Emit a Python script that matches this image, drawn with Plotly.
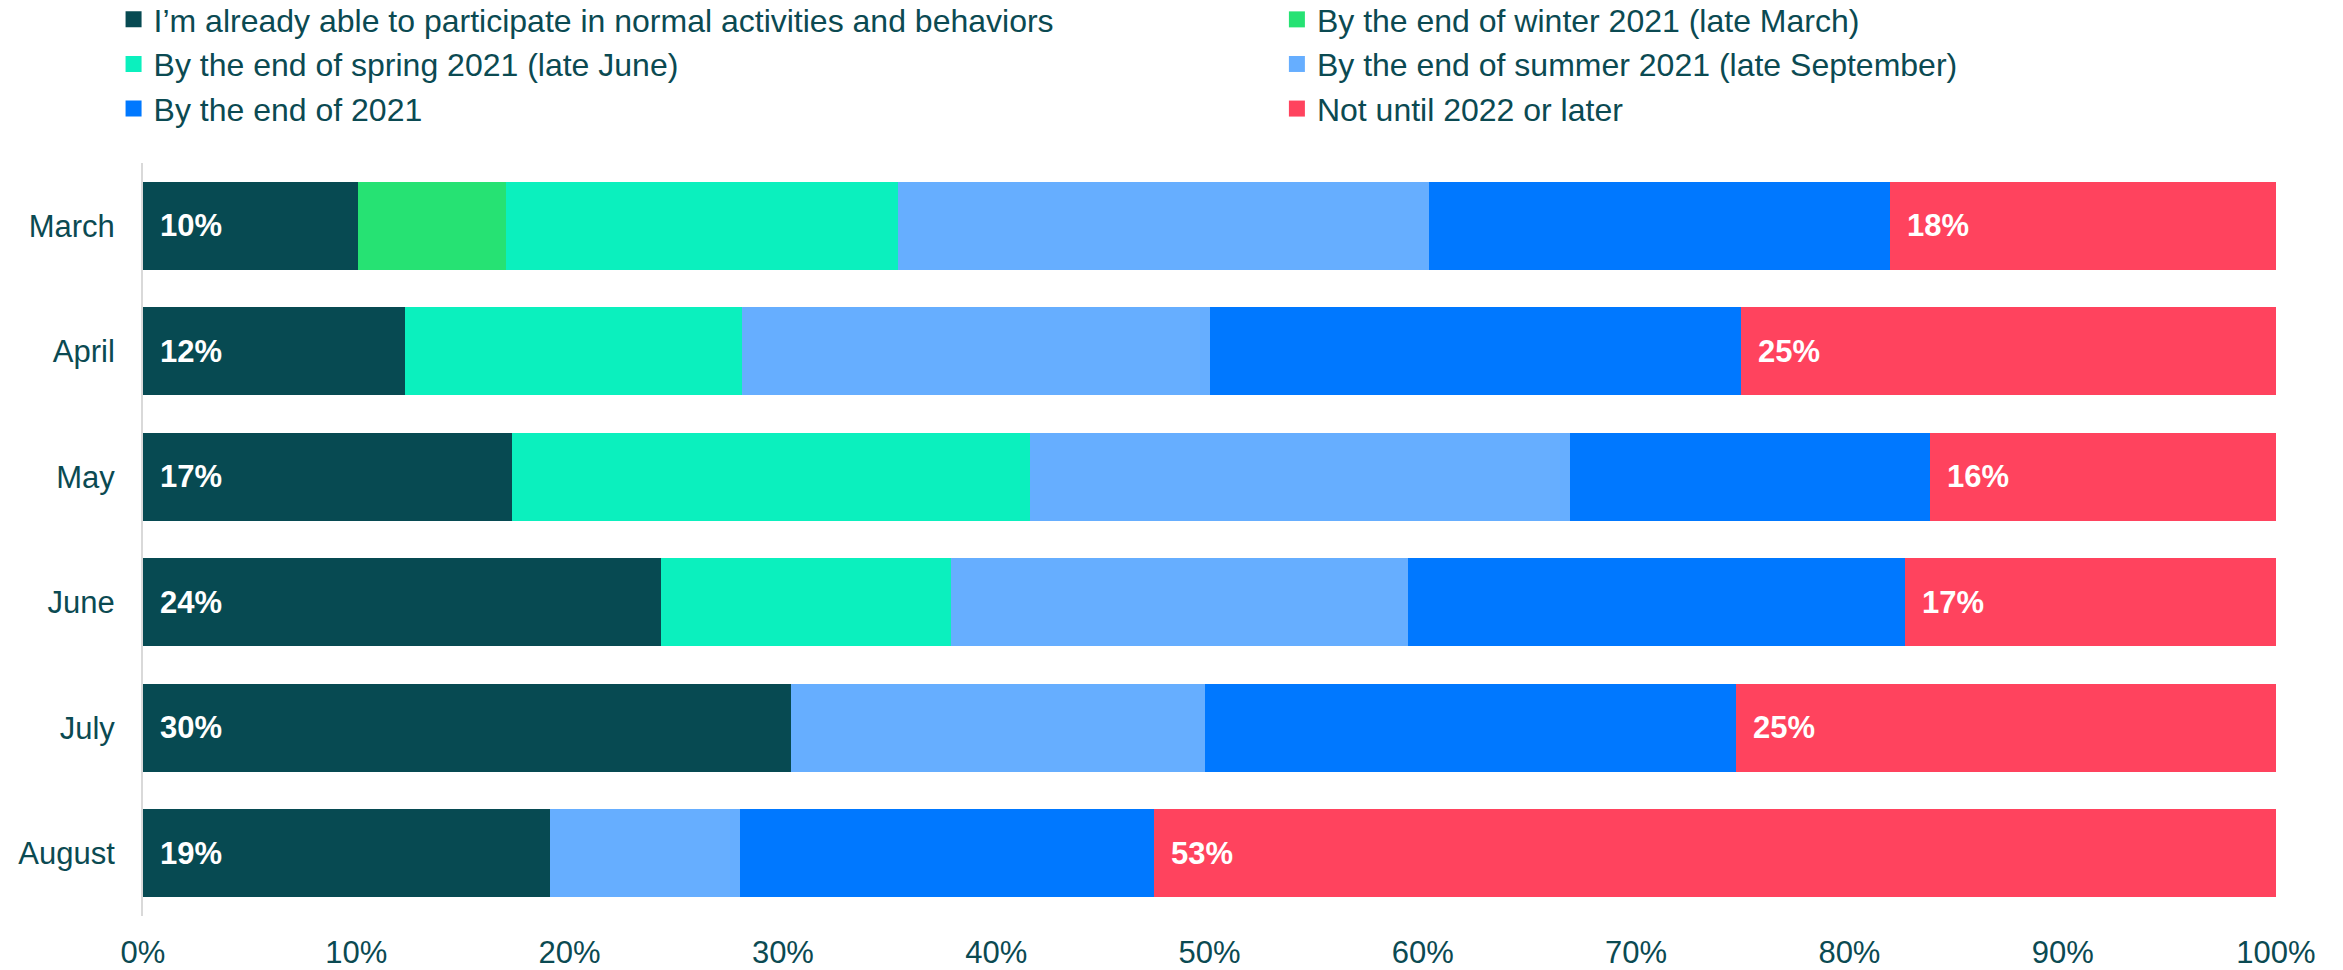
import plotly.graph_objects as go

months = ["March", "April", "May", "June", "July", "August"]
series_names = [
    "I’m already able to participate in normal activities and behaviors",
    "By the end of winter 2021 (late March)",
    "By the end of spring 2021 (late June)",
    "By the end of summer 2021 (late September)",
    "By the end of 2021",
    "Not until 2022 or later",
]
already = [10.1, 12.3, 17.3, 24.3, 30.4, 19.1]
winter = [6.9, None, None, None, None, None]
spring = [18.4, 15.8, 24.3, 13.6, None, None]
summer = [24.9, 21.9, 25.3, 21.4, 19.4, 8.9]
end2021 = [21.6, 24.9, 16.9, 23.3, 24.9, 19.4]
later = [18.1, 25.1, 16.2, 17.4, 25.3, 52.6]
colors = ["#074A52", "#26E273", "#0BF0BE", "#66AEFF", "#0078FF", "#FF435E"]
tick_vals = [0, 10, 20, 30, 40, 50, 60, 70, 80, 90, 100]
tick_text = ["0%", "10%", "20%", "30%", "40%", "50%", "60%", "70%", "80%", "90%", "100%"]

text_color = "#0B4A52"
font_family = "Liberation Sans, Arial, sans-serif"

series = [already, winter, spring, summer, end2021, later]
fig = go.Figure()
for name, vals, col in zip(series_names, series, colors):
    fig.add_trace(go.Bar(
        y=months, x=vals, name=name, orientation="h",
        marker=dict(color=col, line=dict(width=0)),
        hoverinfo="x+name", showlegend=False,
    ))

# legend entries (two columns): left column = items 0,2,4 ; right column = 1,3,5
for i, (name, col) in enumerate(zip(series_names, colors)):
    fig.add_trace(go.Scatter(
        x=[None], y=[None], mode="markers", name=name,
        marker=dict(symbol="square", size=16, color=col),
        legend="legend" if i % 2 == 0 else "legend2",
        showlegend=True, hoverinfo="skip",
    ))

annotations = []
for i, m in enumerate(months):
    annotations.append(dict(
        x=0, y=m, xref="x", yref="y", text=f"<b>{round(already[i])}%</b>",
        showarrow=False, xanchor="left", xshift=15,
        font=dict(color="white", size=31, family=font_family),
    ))
    base = 100 - later[i]
    annotations.append(dict(
        x=base, y=m, xref="x", yref="y", text=f"<b>{round(later[i])}%</b>",
        showarrow=False, xanchor="left", xshift=15,
        font=dict(color="white", size=31, family=font_family),
    ))

legend_common = dict(
    orientation="v", xanchor="left", yanchor="top",
    itemwidth=30, traceorder="normal", bgcolor="rgba(0,0,0,0)",
    font=dict(size=32, color=text_color, family=font_family),
)

fig.update_layout(
    barmode="stack",
    bargap=0.3,
    width=2343, height=970,
    margin=dict(l=143, r=67, t=163, b=54, autoexpand=False),
    paper_bgcolor="white", plot_bgcolor="white",
    font=dict(family=font_family, color=text_color, size=31),
    annotations=annotations,
    legend=dict(x=-0.0138, y=1.227, **legend_common),
    legend2=dict(x=0.5316, y=1.227, **legend_common),
    xaxis=dict(
        range=[0, 100], tickvals=tick_vals, ticktext=tick_text,
        showgrid=False, zeroline=False, showline=False, automargin=False,
        tickfont=dict(size=31, color=text_color), ticklabelstandoff=15,
        fixedrange=True,
    ),
    yaxis=dict(
        autorange="reversed", showgrid=False, zeroline=False, automargin=False,
        showline=True, linecolor="#D9D9D9", linewidth=2,
        tickfont=dict(size=31, color=text_color), ticklabelstandoff=20,
        fixedrange=True,
    ),
)

fig.write_html("out.html")
